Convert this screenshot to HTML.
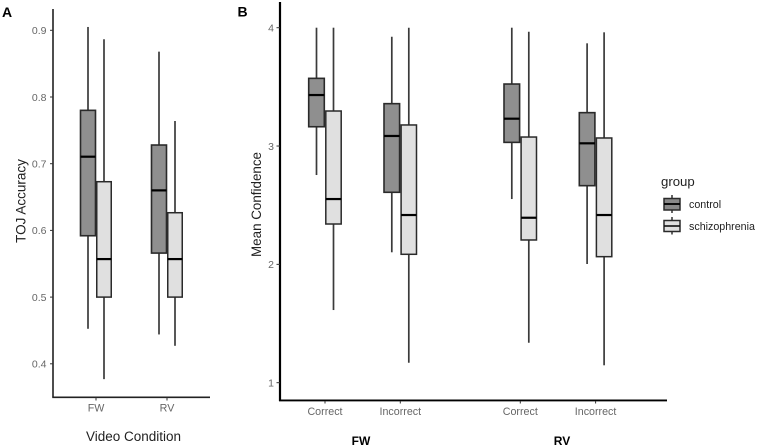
<!DOCTYPE html>
<html lang="en">
<head>
<meta charset="utf-8">
<title>TOJ Accuracy and Mean Confidence</title>
<style>
html,body{margin:0;padding:0;background:#fff;width:758px;height:447px;overflow:hidden}
svg{display:block;filter:blur(0.35px)}
text{font-family:"Liberation Sans",sans-serif}
</style>
</head>
<body>
<svg id="chart" xmlns="http://www.w3.org/2000/svg" width="758" height="447" viewBox="0 0 758 447">
  <text x="2" y="17" font-size="14" font-weight="bold" fill="#000">A</text>
  <text x="237.5" y="16.5" font-size="14" font-weight="bold" fill="#000">B</text>
  <text transform="translate(25.5,201) rotate(-90)" text-anchor="middle" font-size="13.5" fill="#222">TOJ Accuracy</text>
  <text x="133.5" y="441" text-anchor="middle" font-size="13.5" fill="#222">Video Condition</text>
  <text transform="translate(261,204.5) rotate(-90)" text-anchor="middle" font-size="13.4" fill="#222">Mean Confidence</text>
  <text x="361" y="445" text-anchor="middle" font-size="12" font-weight="bold" fill="#000">FW</text>
  <text x="562" y="445" text-anchor="middle" font-size="12" font-weight="bold" fill="#000">RV</text>
  <g>
    <text x="661" y="186" font-size="13.2" fill="#222">group</text>
    <g>
      <line x1="672" x2="672" y1="195" y2="213" stroke="#333" stroke-width="1.5"/>
      <rect x="664" y="198.5" width="16" height="11.5" fill="#8a8a8a" stroke="#2a2a2a" stroke-width="1.5"/>
      <line x1="664" x2="680" y1="204" y2="204" stroke="#000" stroke-width="1.8"/>
      <text x="689" y="208" font-size="10.7" fill="#222">control</text>
    </g>
    <g>
      <line x1="672" x2="672" y1="217" y2="234.5" stroke="#333" stroke-width="1.5"/>
      <rect x="664" y="220.5" width="16" height="11" fill="#e0e0e0" stroke="#2a2a2a" stroke-width="1.5"/>
      <line x1="664" x2="680" y1="226" y2="226" stroke="#111" stroke-width="1.6"/>
      <text x="689" y="230" font-size="10.7" fill="#222">schizophrenia</text>
    </g>
  </g>
</svg>
<script>
// Panel A data
const aCategories = ["FW", "RV"];
const aYTicks = [0.4, 0.5, 0.6, 0.7, 0.8, 0.9];
const aYTickLabels = ["0.4", "0.5", "0.6", "0.7", "0.8", "0.9"];
const aControlHigh = [0.905, 0.868];
const aControlQ3 = [0.78, 0.728];
const aControlMedian = [0.7105, 0.66];
const aControlQ1 = [0.592, 0.566];
const aControlLow = [0.4525, 0.444];
const aSchizHigh = [0.8865, 0.764];
const aSchizQ3 = [0.673, 0.6265];
const aSchizMedian = [0.557, 0.557];
const aSchizQ1 = [0.5, 0.5];
const aSchizLow = [0.377, 0.427];

// Panel B data (order: FW Correct, FW Incorrect, RV Correct, RV Incorrect)
const bCategories = ["Correct", "Incorrect", "Correct", "Incorrect"];
const bYTicks = [1, 2, 3, 4];
const bYTickLabels = ["1", "2", "3", "4"];
const bControlHigh = [4, 3.924, 4, 3.868];
const bControlQ3 = [3.572, 3.358, 3.524, 3.282];
const bControlMedian = [3.431, 3.085, 3.231, 3.023];
const bControlQ1 = [3.163, 2.609, 3.031, 2.665];
const bControlLow = [2.755, 2.102, 2.552, 2.003];
const bSchizHigh = [4, 4, 3.966, 3.961];
const bSchizQ3 = [3.296, 3.178, 3.076, 3.068];
const bSchizMedian = [2.552, 2.417, 2.394, 2.417];
const bSchizQ1 = [2.341, 2.085, 2.206, 2.065];
const bSchizLow = [1.614, 1.169, 1.338, 1.147];

const SVG_NS = "http://www.w3.org/2000/svg";
const root = document.getElementById("chart");

function make(parent, tag, props, content) {
  const el = document.createElementNS(SVG_NS, tag);
  for (const k in props) el.setAttribute(k, props[k]);
  if (content !== undefined) el.textContent = content;
  parent.appendChild(el);
  return el;
}

// Axis functions
function yA(v) { return 30.3 + (0.9 - v) * 667; }
function xA(i) { return 96 + 71 * i; }
function yB(v) { return 27.7 + (4 - v) * 118.33; }
function xB(i) { return 325 + 75.3 * (i % 2) + 195.3 * Math.floor(i / 2); }

function drawBox(parent, name, cx, w, y, s, fill, strokeW, whiskW, medW) {
  const g = make(parent, "g", {});
  
  

  const up = make(g, "line", {x1: cx, x2: cx, y1: y(s.high), y2: y(s.q3), stroke: "#3a3a3a", "stroke-width": whiskW});
  
  

  const lo = make(g, "line", {x1: cx, x2: cx, y1: y(s.q1), y2: y(s.low), stroke: "#3a3a3a", "stroke-width": whiskW});
  
  

  const box = make(g, "rect", {x: cx - w / 2, y: y(s.q3), width: w, height: y(s.q1) - y(s.q3), fill: fill, stroke: "#2a2a2a", "stroke-width": strokeW});
  
  

  const med = make(g, "line", {x1: cx - w / 2, x2: cx + w / 2, y1: y(s.med), y2: y(s.med), stroke: "#000", "stroke-width": medW});
  
  
}

// ---- Panel A ----
const panelA = make(root, "g", {});



const aYAxis = make(panelA, "line", {x1: 53, x2: 53, y1: 9, y2: 397.5, stroke: "#222", "stroke-width": 1.6});



const aXAxis = make(panelA, "line", {x1: 52.3, x2: 210, y1: 397.3, y2: 397.3, stroke: "#222", "stroke-width": 1.6});



aYTicks.forEach(function (v, i) {
  const t = make(panelA, "line", {x1: 50, x2: 53, y1: yA(v), y2: yA(v), stroke: "#333", "stroke-width": 1});
  
  
  const l = make(panelA, "text", {x: 46.5, y: yA(v) + 3.8, "text-anchor": "end", "font-size": 10.5, fill: "#666"}, aYTickLabels[i]);
  
  
});

aCategories.forEach(function (c, i) {
  const t = make(panelA, "line", {x1: xA(i), x2: xA(i), y1: 397.5, y2: 400.5, stroke: "#333", "stroke-width": 1});
  
  
  const l = make(panelA, "text", {x: xA(i), y: 411.7, "text-anchor": "middle", "font-size": 10.7, fill: "#666"}, c);
  
  
  drawBox(panelA, 'box-a-control-' + c.toLowerCase(), xA(i) - 8, 15, yA,
    {high: aControlHigh[i], q3: aControlQ3[i], med: aControlMedian[i], q1: aControlQ1[i], low: aControlLow[i]},
    "#8f8f8f", 1.6, 1.7, 2.2);
  drawBox(panelA, 'box-a-schizophrenia-' + c.toLowerCase(), xA(i) + 8, 14.5, yA,
    {high: aSchizHigh[i], q3: aSchizQ3[i], med: aSchizMedian[i], q1: aSchizQ1[i], low: aSchizLow[i]},
    "#e0e0e0", 1.5, 1.7, 2.2);
});

// ---- Panel B ----
const panelB = make(root, "g", {});



const bYAxis = make(panelB, "line", {x1: 280, x2: 280, y1: 2, y2: 401, stroke: "#000", "stroke-width": 2.2});



const bXAxis = make(panelB, "line", {x1: 279, x2: 667, y1: 400.4, y2: 400.4, stroke: "#000", "stroke-width": 1.9});



bYTicks.forEach(function (v, i) {
  const t = make(panelB, "line", {x1: 276.5, x2: 280, y1: yB(v), y2: yB(v), stroke: "#333", "stroke-width": 1});
  
  
  const l = make(panelB, "text", {x: 274, y: yB(v) + 3.8, "text-anchor": "end", "font-size": 10.5, fill: "#666"}, bYTickLabels[i]);
  
  
});

bCategories.forEach(function (c, i) {
  const t = make(panelB, "line", {x1: xB(i), x2: xB(i), y1: 401, y2: 403.5, stroke: "#333", "stroke-width": 1});
  
  
  const l = make(panelB, "text", {x: xB(i), y: 415, "text-anchor": "middle", "font-size": 10.7, fill: "#666"}, c);
  
  
  drawBox(panelB, 'box-b-control-' + i, xB(i) - 8.5, 15.6, yB,
    {high: bControlHigh[i], q3: bControlQ3[i], med: bControlMedian[i], q1: bControlQ1[i], low: bControlLow[i]},
    "#8f8f8f", 1.6, 1.7, 2.2);
  drawBox(panelB, 'box-b-schizophrenia-' + i, xB(i) + 8.5, 15.4, yB,
    {high: bSchizHigh[i], q3: bSchizQ3[i], med: bSchizMedian[i], q1: bSchizQ1[i], low: bSchizLow[i]},
    "#e0e0e0", 1.5, 1.7, 2.2);
});
</script>
</body>
</html>
